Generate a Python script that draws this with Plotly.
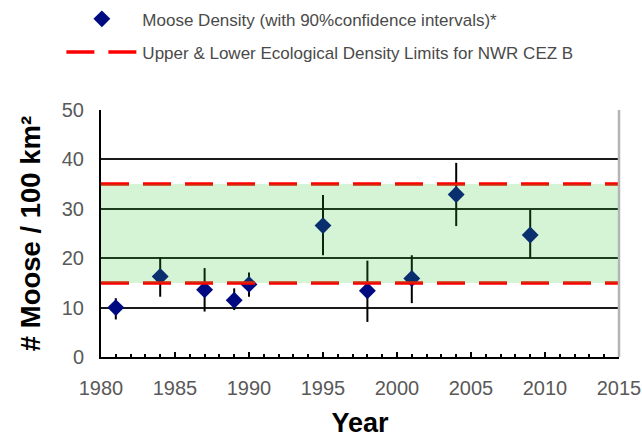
import plotly.graph_objects as go

years = [1981, 1984, 1987, 1989, 1990, 1995, 1998, 2001, 2004, 2009]
density = [10.0, 16.3, 13.6, 11.5, 14.7, 26.6, 13.4, 15.9, 32.9, 24.7]
ci_upper = [11.9, 20.2, 18.0, 13.9, 17.1, 32.8, 19.5, 20.6, 39.3, 29.8]
ci_lower = [7.6, 12.2, 9.2, 9.5, 12.2, 20.6, 7.1, 10.9, 26.5, 20.0]
limit_lower = 15
limit_upper = 35
x_range = [1980, 2015]
y_range = [0, 50]

FONT = "Liberation Sans, Arial, sans-serif"

err_plus = [u - v for u, v in zip(ci_upper, density)]
err_minus = [v - l for v, l in zip(density, ci_lower)]

fig = go.Figure()
fig.add_trace(go.Scatter(
    x=years, y=density, mode="markers",
    name="Moose Density (with 90%confidence intervals)*",
    legendgroup="a",
    marker=dict(symbol="diamond", size=13, color="#000a80"),
    error_y=dict(type="data", symmetric=False, array=err_plus, arrayminus=err_minus,
                 color="#000000", thickness=2, width=0),
))
fig.add_trace(go.Scatter(
    x=[x_range[0], x_range[1], None, x_range[0], x_range[1]],
    y=[limit_upper, limit_upper, None, limit_lower, limit_lower],
    mode="lines",
    name="Upper & Lower Ecological Density Limits for NWR CEZ B",
    legendgroup="b",
    line=dict(color="#ff0000", width=3.5, dash="28px,14px"),
    connectgaps=False,
))

fig.add_shape(type="rect", xref="x", yref="y",
              x0=x_range[0], x1=x_range[1], y0=limit_lower, y1=limit_upper,
              fillcolor="rgba(45,195,45,0.2)", line=dict(width=0), layer="above")
fig.add_shape(type="line", xref="paper", yref="paper", x0=1, x1=1, y0=0, y1=1,
              line=dict(color="#b4b4b4", width=2.5), layer="above")

fig.update_layout(
    width=642, height=438,
    margin=dict(l=101, r=23, t=110, b=81, autoexpand=False),
    paper_bgcolor="white", plot_bgcolor="white",
    font=dict(family=FONT, color="#595959"),
    showlegend=True,
    legend=dict(
        x=-0.0765, xanchor="left", y=1.44, yanchor="top",
        font=dict(size=17, color="#4a4a4a", family=FONT),
        itemwidth=71, tracegroupgap=8, traceorder="grouped",
        bgcolor="rgba(0,0,0,0)",
    ),
    xaxis=dict(
        range=x_range, dtick=5, tick0=1980,
        showgrid=False, zeroline=False,
        showline=True, linecolor="#000000", linewidth=2,
        ticks="inside", ticklen=5, tickwidth=2, tickcolor="#000000",
        minor=dict(dtick=1, ticks="inside", ticklen=3, tickwidth=1.5, tickcolor="#000000"),
        tickfont=dict(size=20, color="#595959", family=FONT),
        ticklabelstandoff=12,
        title=dict(text="<b>Year</b>", font=dict(size=27, color="#000000", family=FONT), standoff=16),
    ),
    yaxis=dict(
        range=y_range, dtick=10,
        showgrid=True, gridcolor="#1a1a1a", gridwidth=1.5,
        zeroline=False,
        showline=True, linecolor="#000000", linewidth=2,
        ticks="", tickfont=dict(size=20, color="#595959", family=FONT),
        ticklabelstandoff=11,
        title=dict(text="<b># Moose / 100 km²</b>", font=dict(size=27.5, color="#000000", family=FONT), standoff=13),
    ),
)

fig.write_html(
    "out.html",
    config={"displayModeBar": False},
    post_script="document.body.style.margin='0';document.body.style.overflow='hidden';",
)
